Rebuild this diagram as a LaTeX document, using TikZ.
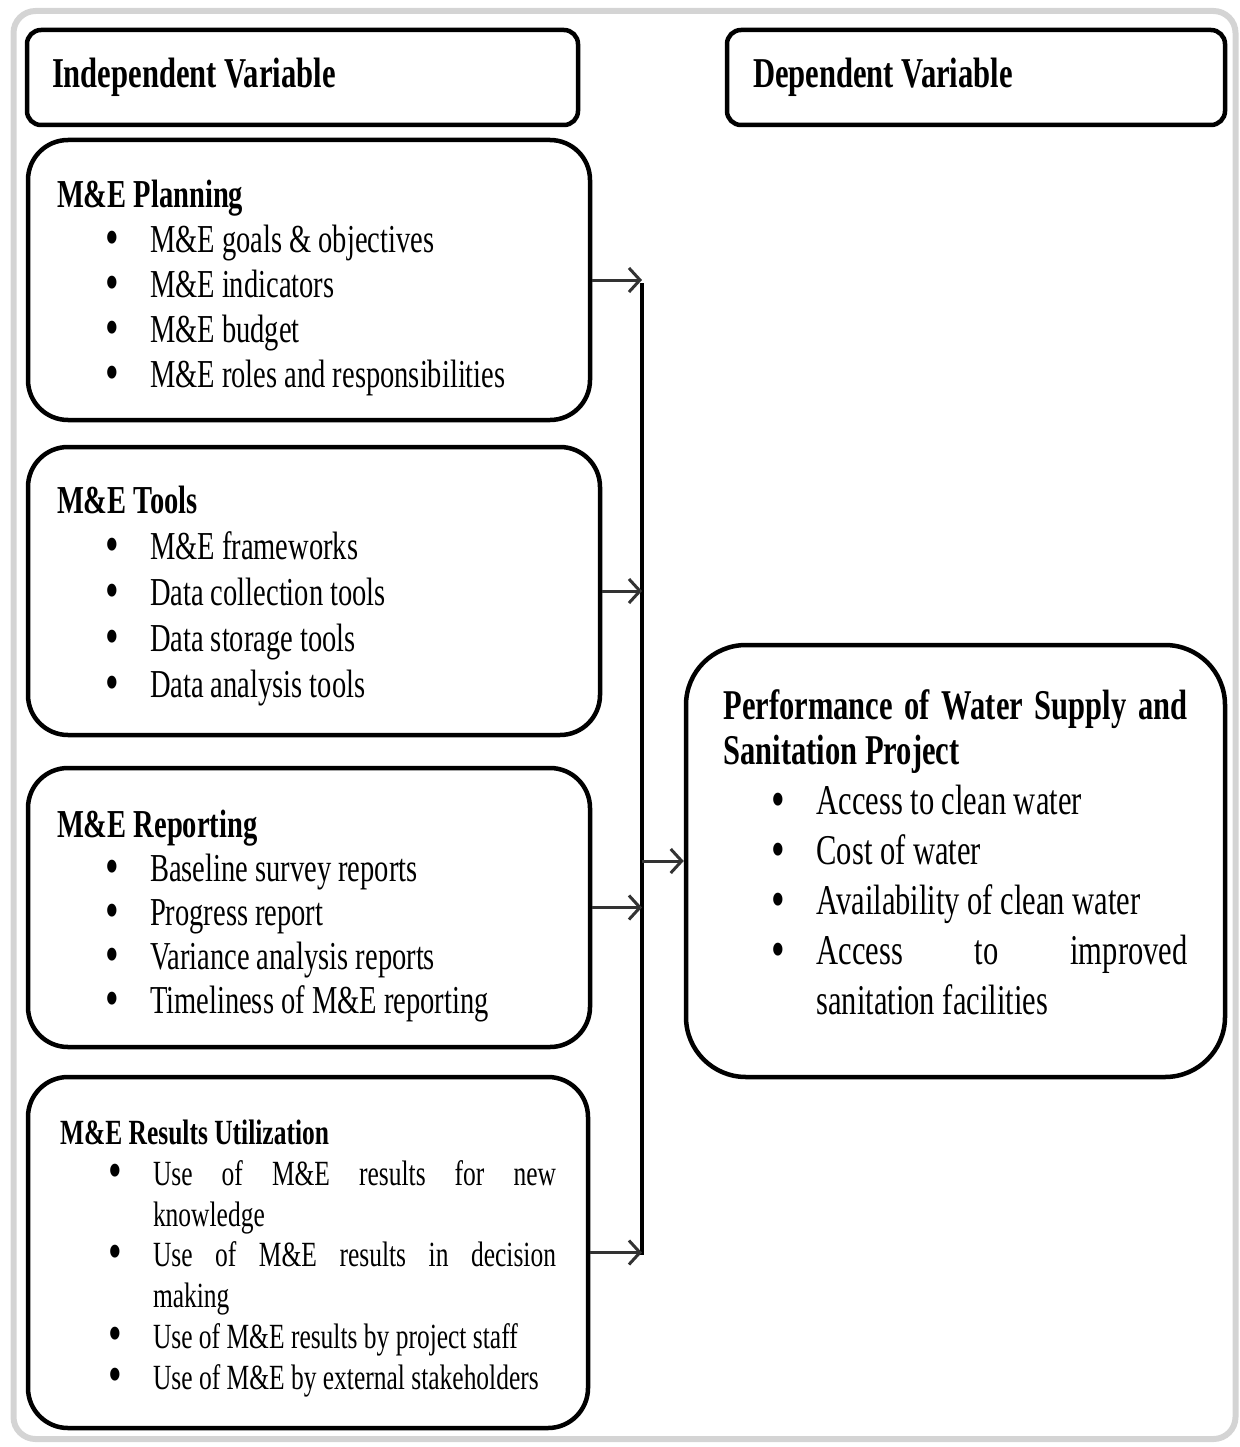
\documentclass[tikz,border=0pt]{standalone}
\usepackage{fontspec}
\setmainfont{Liberation Serif}[FakeStretch=0.72]
\usetikzlibrary{arrows.meta, positioning}
\hyphenpenalty=10000
\exhyphenpenalty=10000
\hbadness=10000
\newcommand{\mebullet}{\raisebox{-3pt}{\fontsize{54}{45}\selectfont\textbullet}}
\newcommand{\meitem}[1]{\par\leftskip=93pt\noindent\llap{\mebullet\hspace{31pt}}#1\par}
\newcommand{\meshift}[1]{\par\vspace*{#1}}

\begin{document}
\begin{tikzpicture}[x=1pt, y=-1pt,
		texts/.style = {text=black},
		framebox/.style = {draw=black!17, line width=6pt, rounded corners=22pt},
		headbox/.style = {texts, draw, line width=4.5pt, rounded corners=14pt, align=justify, inner sep=0pt, minimum height=95pt, font=\fontsize{42.5}{48}\selectfont\bfseries},
		varbox/.style = {texts, draw, line width=4.5pt, rounded corners=40pt, inner sep=0pt, align=justify, font=\fontsize{39.6}{45}\selectfont},
		utilbox/.style = {varbox, font=\fontsize{35.4}{40.8}\selectfont},
		perfbox/.style = {varbox, rounded corners=60pt, font=\fontsize{42.4}{50}\selectfont},
		textshift/.style = {execute at end node={\meshift{#1}}},
		arrowline/.style = {draw=black!80, line width=3pt, -{Straight Barb[length=11pt, width=24pt]}},
		busline/.style = {draw=black, line width=3.5pt}
		]
		\useasboundingbox (0,0) rectangle (1239,1447);
		\node [framebox, minimum width=1222pt, minimum height=1428pt] (frame) at (624.5,725) {};
		
		\node [headbox, text width=501pt, minimum width=551pt] (indep) at (302.5,77.5) {Independent Variable};
		\node [headbox, text width=446pt, minimum width=498pt] (dep) at (976,77.5) {Dependent Variable};
		
		\node [varbox, textshift=-15pt, text width=504pt, minimum width=562pt, minimum height=280pt] (plan) at (309,280) {%
			\textbf{M\&E Planning}
			\meitem{M\&E goals \& objectives}
			\meitem{M\&E indicators}
			\meitem{M\&E budget}
			\meitem{M\&E roles and responsibilities}};
		\node [varbox, font=\fontsize{39.6}{46}\selectfont, textshift=-10pt, text width=514pt, minimum width=572pt, minimum height=288pt] (tools) at (314,591) {%
			\textbf{M\&E Tools}
			\meitem{M\&E frameworks}
			\meitem{Data collection tools}
			\meitem{Data storage tools}
			\meitem{Data analysis tools}};
		\node [varbox, font=\fontsize{39.6}{44}\selectfont, textshift=-18pt, text width=504pt, minimum width=562pt, minimum height=279pt] (report) at (309,907.5) {%
			\textbf{M\&E Reporting}
			\meitem{Baseline survey reports}
			\meitem{Progress report}
			\meitem{Variance analysis reports}
			\meitem{Timeliness of M\&E reporting}};
		\node [utilbox, textshift=-12pt, text width=496pt, minimum width=560pt, minimum height=351pt] (util) at (308,1252.5) {%
			\textbf{M\&E Results Utilization}
			\meitem{Use of M\&E results for new\linebreak knowledge}
			\meitem{Use of M\&E results in decision\linebreak making}
			\meitem{Use of M\&E results by project staff}
			\meitem{Use of M\&E by external stakeholders}};
		
		\node [perfbox, textshift=18pt, text width=464pt, minimum width=539pt, minimum height=432pt] (perf) at (955.5,861) {%
			{\bfseries\fontsize{42.4}{45}\selectfont Performance of Water Supply and\linebreak Sanitation Project\par}
			\meitem{Access to clean water}
			\meitem{Cost of water}
			\meitem{Availability of clean water}
			\meitem{Access to improved\linebreak sanitation facilities}};
		
		\coordinate (bustop) at (642,283);
		\coordinate (busbot) at (642,1255);
		\draw[busline] (bustop) -- (busbot);
		
		\draw[arrowline] (plan.east) -- (plan.east -| bustop);
		\draw[arrowline] (tools.east) -- (tools.east -| bustop);
		\draw[arrowline] (report.east) -- (report.east -| bustop);
		\draw[arrowline] (util.east) -- (util.east -| bustop);
		\draw[arrowline] (perf.west -| bustop) -- (perf.west);
		
		\end{tikzpicture}
\end{document}
